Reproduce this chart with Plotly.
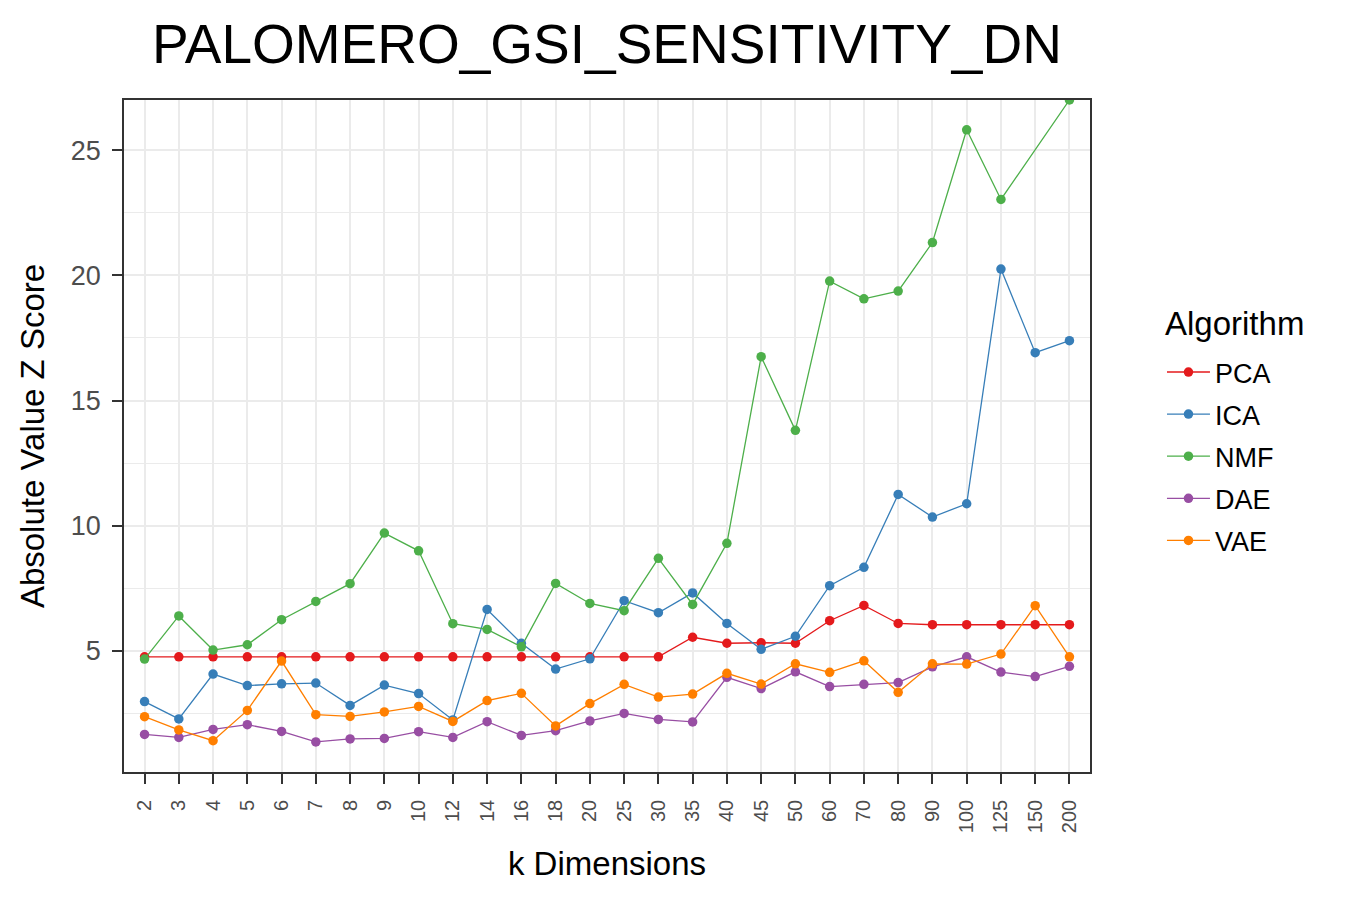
import plotly.graph_objects as go

title_text = "PALOMERO_GSI_SENSITIVITY_DN"
legend_title = "Algorithm"

k_dims = ["2", "3", "4", "5", "6", "7", "8", "9", "10", "12", "14", "16", "18", "20",
          "25", "30", "35", "40", "45", "50", "60", "70", "80", "90", "100", "125", "150", "200"]

pca = [4.77, 4.77, 4.77, 4.77, 4.77, 4.77, 4.77, 4.77, 4.77, 4.77, 4.77, 4.77, 4.77, 4.77,
       4.77, 4.77, 5.55, 5.31, 5.33, 5.31, 6.21, 6.82, 6.10, 6.05, 6.05, 6.05, 6.05, 6.05]

ica = [2.98, 2.29, 4.08, 3.62, 3.69, 3.72, 2.83, 3.64, 3.30, 2.25, 6.66, 5.31, 4.28, 4.69,
       7.01, 6.53, 7.32, 6.10, 5.07, 5.59, 7.61, 8.34, 11.25, 10.35, 10.88, 20.25, 16.91, 17.39]

nmf = [4.68, 6.40, 5.04, 5.25, 6.25, 6.98, 7.69, 9.71, 9.00, 6.09, 5.86, 5.17, 7.70, 6.90,
       6.61, 8.70, 6.86, 9.30, 16.75, 13.81, 19.77, 19.06, 19.37, 21.31, 25.81, 23.03, None, 27.0]

dae = [1.67, 1.55, 1.87, 2.06, 1.79, 1.37, 1.49, 1.51, 1.78, 1.55, 2.18, 1.63, 1.82, 2.21,
       2.51, 2.27, 2.17, 3.95, 3.50, 4.17, 3.58, 3.67, 3.74, 4.37, 4.77, 4.16, 3.98, 4.39]

vae = [2.38, 1.85, 1.42, 2.63, 4.60, 2.46, 2.39, 2.57, 2.79, 2.19, 3.02, 3.31, 2.01, 2.90,
       3.67, 3.16, 3.28, 4.11, 3.68, 4.49, 4.15, 4.61, 3.35, 4.49, 4.48, 4.88, 6.81, 4.77]

algorithms = ["PCA", "ICA", "NMF", "DAE", "VAE"]
series = [pca, ica, nmf, dae, vae]
colors = ["#E41A1C", "#377EB8", "#4DAF4A", "#984EA3", "#FF7F00"]

y_ticks = [5, 10, 15, 20, 25]

FONT = "Liberation Sans, Arial, sans-serif"

# page body has an 8px margin, so the figure is 8px smaller than the window
W, H = 1342, 892

fig = go.Figure()
for name, vals, col in zip(algorithms, series, colors):
    fig.add_trace(go.Scatter(
        x=k_dims, y=vals, name=name, mode="lines+markers",
        connectgaps=True, legendgroup=name,
        line=dict(color=col, width=1.3),
        marker=dict(color=col, size=9.5),
    ))

fig.update_layout(
    width=W, height=H,
    paper_bgcolor="white", plot_bgcolor="white",
    font=dict(family=FONT, color="black"),
    margin=dict(l=116, r=260, t=92, b=128, autoexpand=False),
    title=dict(text=title_text, font=dict(size=55, color="black", family=FONT),
               x=0.5, xref="paper", xanchor="center",
               y=1 - 36 / H, yref="container", yanchor="middle"),
    showlegend=True,
    legend=dict(
        font=dict(size=27, color="black"),
        x=1.0745, xanchor="left", xref="paper",
        y=0.631, yanchor="top", yref="paper",
        tracegroupgap=4, itemwidth=43, bgcolor="rgba(0,0,0,0)",
    ),
    annotations=[dict(
        text=legend_title, xref="paper", yref="paper",
        x=1.0756, y=0.668, xanchor="left", yanchor="middle",
        showarrow=False, font=dict(size=33, color="black", family=FONT),
    )],
)

fig.update_xaxes(
    type="category", categoryorder="array", categoryarray=k_dims,
    range=[-0.6, 27.6],
    showgrid=True, gridcolor="#EBEBEB", gridwidth=2.2,
    showline=True, linecolor="#333333", linewidth=1.6, mirror=True,
    ticks="outside", ticklen=10, tickwidth=2.2, tickcolor="#333333",
    tickangle=-90, tickfont=dict(size=20, color="#4D4D4D", family=FONT),
    ticklabelstandoff=8,
    title=dict(text="k Dimensions", font=dict(size=33, color="black"), standoff=20),
    zeroline=False, automargin=False,
)

fig.update_yaxes(
    range=[0.17, 27.0],
    tickmode="array", tickvals=y_ticks, ticktext=[str(v) for v in y_ticks],
    showgrid=True, gridcolor="#EBEBEB", gridwidth=2.2,
    minor=dict(tick0=0, dtick=2.5, showgrid=True, gridcolor="#EBEBEB", gridwidth=1.1),
    showline=True, linecolor="#333333", linewidth=1.6, mirror=True,
    ticks="outside", ticklen=10, tickwidth=2.2, tickcolor="#333333",
    tickfont=dict(size=27, color="#4D4D4D", family=FONT),
    ticklabelstandoff=6,
    title=dict(text="Absolute Value Z Score", font=dict(size=33, color="black"), standoff=16),
    zeroline=False, automargin=False,
)

fig.write_html("out.html")
